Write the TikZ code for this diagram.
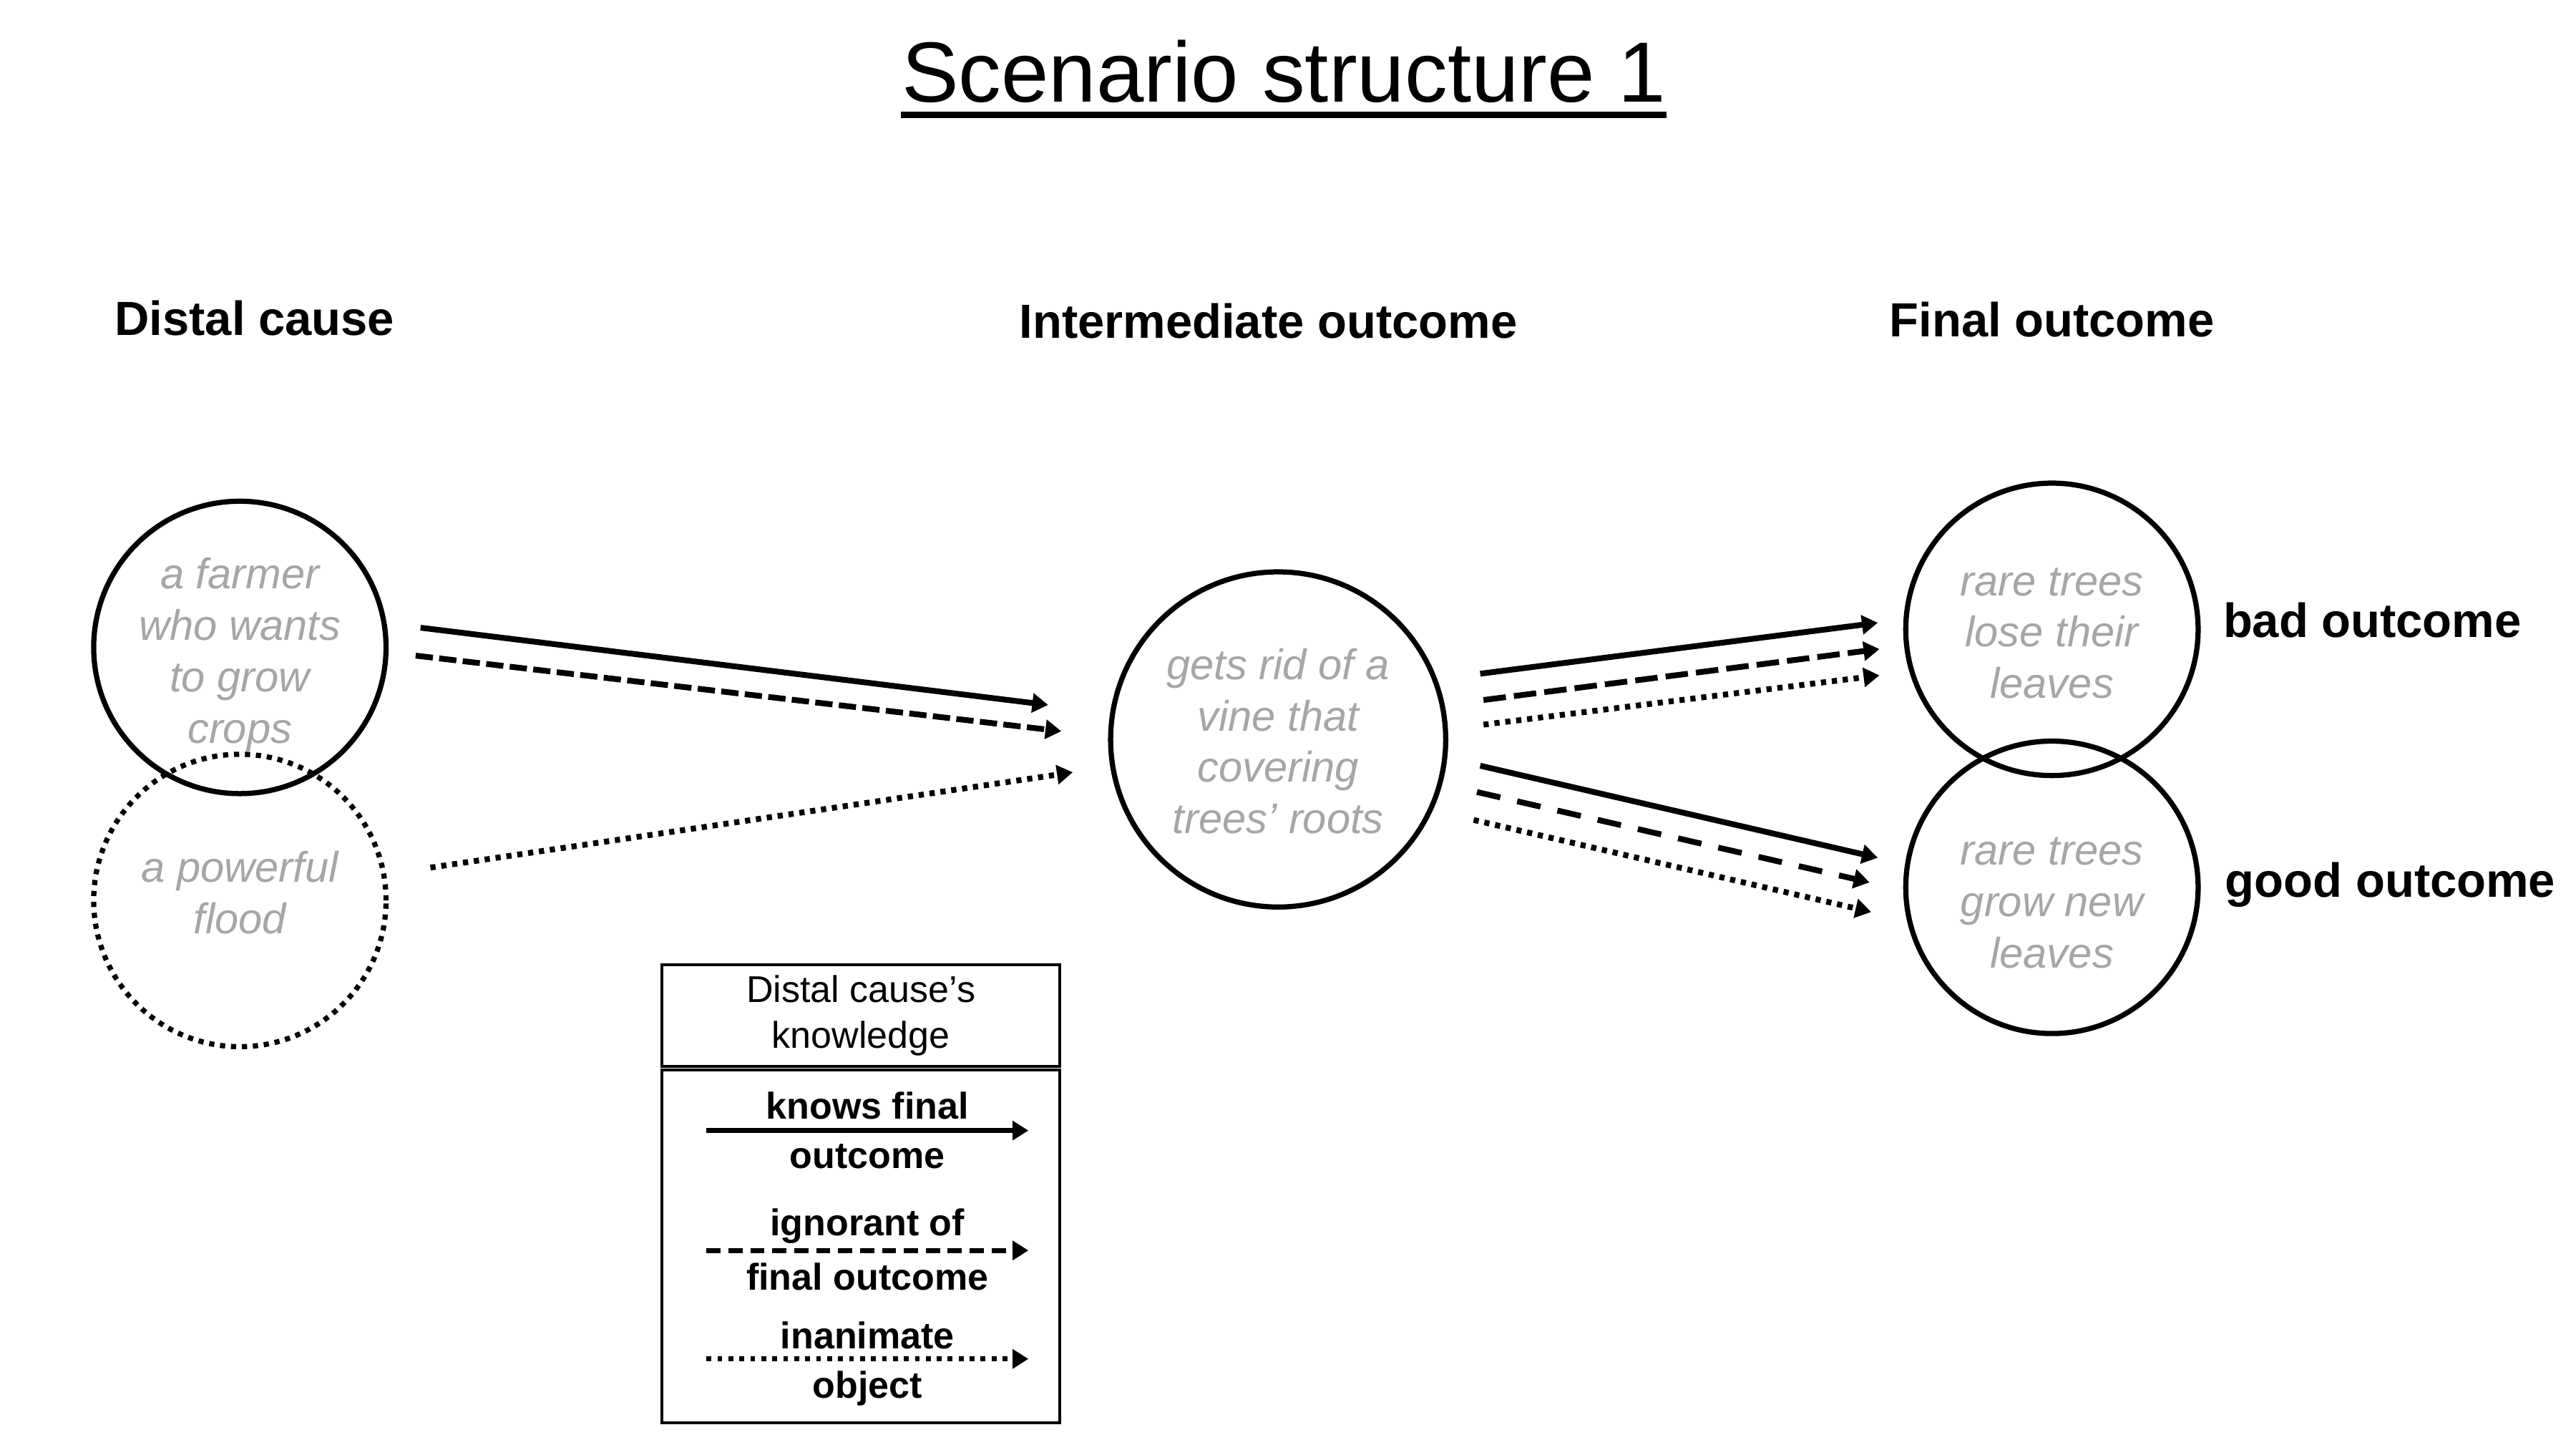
\documentclass[tikz,border=0pt]{standalone}
\usepackage{fontspec}
\setmainfont{Liberation Sans}
\usetikzlibrary{arrows.meta}
\definecolor{txtgray}{RGB}{166,166,166}

\begin{document}
\begin{tikzpicture}[x=0.02cm, y=-0.02cm,
  heading/.style={font=\fontsize{16.6}{20}\selectfont\bfseries, inner sep=0pt, anchor=base},
  event/.style={draw, circle, line width=1.8pt, minimum size=3.56cm, inner sep=0pt},
  evtext/.style={align=center, inner sep=0pt, text=txtgray, font=\fontsize{14.8}{17.8}\selectfont\itshape},
  keytext/.style={font=\fontsize{12.9}{15.9}\selectfont\bfseries, inner sep=0pt, anchor=base},
  knows/.style={line width=2pt, -{Triangle[length=5.5pt, width=6.5pt]}},
  ignorant/.style={knows, dash pattern=on 6pt off 2.2pt},
  inanimate/.style={knows, dash pattern=on 1.8pt off 2pt}]
  \useasboundingbox (0,0) rectangle (1568,882);

  % Title
  \node[font=\fontsize{29.6}{34}\selectfont, inner sep=0pt, anchor=base] (title) at (781.5,62) {Scenario structure 1};
  \draw[line width=2.4pt] ([yshift=-4.5pt]title.base west) -- ([yshift=-4.5pt]title.base east);

  % Column headings
  \node[heading] (hdistal) at (155,204) {Distal cause};
  \node[heading] (hinter) at (772,206) {Intermediate outcome};
  \node[heading] (hfinal) at (1249,205) {Final outcome};

  % Events
  \node[event, label={[evtext, yshift=-2.6pt]center:a farmer\\who wants\\to grow\\crops}] (farmer) at (146,394) {};
  \node[event, dash pattern=on 1.8pt off 2pt, label={[evtext, yshift=2.8pt]center:a powerful\\flood}] (flood) at (146,548) {};
  \node[event, minimum size=4.08cm, label={[evtext, yshift=-0.6pt]center:gets rid of a\\vine that\\covering\\trees’ roots}] (vine) at (778,450) {};
  \node[event, label={[evtext, yshift=-1.4pt]center:rare trees\\lose their\\leaves}] (bad) at (1249,383) {};
  \node[event, label={[evtext, yshift=-5.4pt]center:rare trees\\grow new\\leaves}] (good) at (1249,540) {};

  % Outcome labels
  \node[heading] (badlbl) at (1444,388) {bad outcome};
  \node[heading] (goodlbl) at (1455,546) {good outcome};

  % Arrow ends
  \coordinate (farmer-k) at (256,382);
  \coordinate (farmer-i) at (253,399);
  \coordinate (flood-o) at (262,528);
  \coordinate (vine-k) at (638,429);
  \coordinate (vine-i) at (646,445);
  \coordinate (vine-o) at (653,470);
  \coordinate (vb-k) at (901,410);
  \coordinate (vb-i) at (903,426);
  \coordinate (vb-o) at (903,441);
  \coordinate (bad-k) at (1143,379);
  \coordinate (bad-i) at (1144,395);
  \coordinate (bad-o) at (1144,411);
  \coordinate (vg-k) at (901,466);
  \coordinate (vg-i) at (899,482);
  \coordinate (vg-o) at (897,499);
  \coordinate (good-k) at (1143,522);
  \coordinate (good-i) at (1138,537);
  \coordinate (good-o) at (1139,555);

  % Arrows
  \draw[knows] (farmer-k) -- (vine-k);
  \draw[ignorant] (farmer-i) -- (vine-i);
  \draw[inanimate] (flood-o) -- (vine-o);
  \draw[knows] (vb-k) -- (bad-k);
  \draw[ignorant, dash pattern=on 7.8pt off 2.8pt] (vb-i) -- (bad-i);
  \draw[inanimate] (vb-o) -- (bad-o);
  \draw[knows] (vg-k) -- (good-k);
  \draw[ignorant, dash pattern=on 8.3pt off 6pt] (vg-i) -- (good-i);
  \draw[inanimate] (vg-o) -- (good-o);

  % Legend
  \node[draw, line width=1pt, minimum width=4.84cm, minimum height=1.24cm, align=center,
    font=\fontsize{12.9}{15.9}\selectfont] (keyhead) at (524,618) {Distal cause’s\\knowledge};
  \node[draw, line width=1pt, minimum width=4.84cm, minimum height=4.3cm] (keybody) at (524,758.5) {};

  \node[keytext] (k1a) at (528,681) {knows final};
  \node[keytext] (k1b) at (528,711) {outcome};
  \node[keytext] (k2a) at (528,752) {ignorant of};
  \node[keytext] (k2b) at (528,785) {final outcome};
  \node[keytext] (k3a) at (528,821) {inanimate};
  \node[keytext] (k3b) at (528,851) {object};

  \coordinate (k1s) at (430,688); \coordinate (k1e) at (626,688);
  \coordinate (k2s) at (430,761); \coordinate (k2e) at (626,761);
  \coordinate (k3s) at (430,827); \coordinate (k3e) at (626,827);
  \draw[knows, line width=1.7pt] (k1s) -- (k1e);
  \draw[ignorant, line width=1.7pt, dash pattern=on 4.9pt off 2.7pt] (k2s) -- (k2e);
  \draw[inanimate, line width=1.7pt, dash pattern=on 1.7pt off 2.1pt] (k3s) -- (k3e);
\end{tikzpicture}
\end{document}
